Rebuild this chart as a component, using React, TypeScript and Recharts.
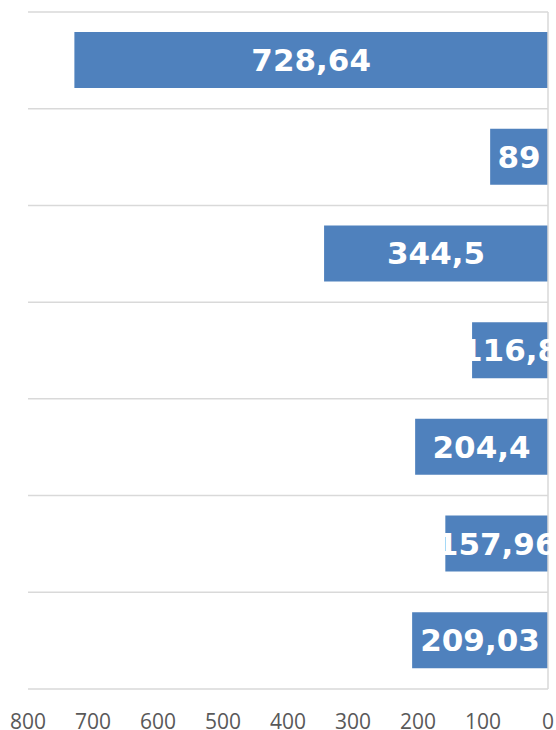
import React from "react";
import { BarChart, Bar, XAxis, YAxis, CartesianGrid, LabelList } from "recharts";

const categories = ["A", "B", "C", "D", "E", "F", "G"];
const values = [728.64, 89, 344.5, 116.8, 204.4, 157.96, 209.03];
const xTicks = [0, 100, 200, 300, 400, 500, 600, 700, 800];

const data = categories.map((c, i) => ({ name: c, value: values[i] }));

const fmt = (v: any) => String(v).replace(".", ",");

export default function App() {
  return (
    <div style={{ position: "absolute", left: 0, top: 0, background: "#fff" }}>
      <BarChart
        width={556}
        height={730}
        data={data}
        layout="vertical"
        margin={{ top: 12, right: 7, bottom: 0, left: 28 }}
      >
        <CartesianGrid
          vertical={false}
          stroke="#d9d9d9"
          strokeWidth={1.5}
          horizontalCoordinatesGenerator={({ offset }: any) =>
            Array.from({ length: categories.length + 1 }, (_, i) => offset.top + (i * offset.height) / categories.length)
          }
        />
        <XAxis
          type="number"
          domain={[0, 800]}
          ticks={xTicks}
          reversed
          height={41}
          axisLine={false}
          tickLine={false}
          tickMargin={19}
          tick={{ fill: "#595959", fontSize: 21, fontFamily: "'Open Sans'" }}
          interval={0}
        />
        <YAxis
          type="category"
          dataKey="name"
          orientation="right"
          width={1}
          tick={false}
          tickLine={false}
          axisLine={{ stroke: "#d9d9d9", strokeWidth: 1.5 }}
        />
        <Bar dataKey="value" fill="#4f81bd" barSize={56} isAnimationActive={false}>
          <LabelList
            dataKey="value"
            position="center"
            formatter={fmt}
            fill="#ffffff"
            style={{ fontSize: 31, fontWeight: 700, fontFamily: "DejaVu Sans" }}
          />
        </Bar>
      </BarChart>
    </div>
  );
}
